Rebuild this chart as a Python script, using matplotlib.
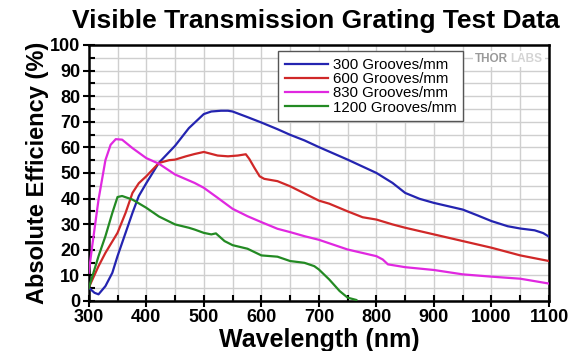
import matplotlib
matplotlib.use("Agg")
import matplotlib.pyplot as plt
from matplotlib.ticker import MultipleLocator

plt.rcParams['font.family'] = ['Liberation Sans', 'DejaVu Sans']

# Measured efficiency curves (wavelength in nm, efficiency in %)
wl_300 = [300, 310, 317, 329, 341, 350, 364, 376, 387, 400, 422, 450, 474, 500, 513,
          530, 542, 550, 576, 600, 628, 650, 675, 700, 750, 800, 828, 850, 875, 900,
          950, 976, 1000, 1028, 1050, 1075, 1090, 1100]
eff_300 = [5.2, 3.2, 2.6, 5.8, 11, 17.5, 26.6, 34.4, 41, 46, 54, 60.6, 67.5, 73, 74,
           74.3, 74.3, 74, 71.8, 69.7, 67.1, 64.9, 62.7, 60.1, 55.2, 50, 46.1, 42.2, 39.9, 38.3,
           35.7, 33.4, 31.2, 29.2, 28.3, 27.6, 26.5, 25.1]

wl_600 = [300, 317, 329, 350, 364, 376, 387, 400, 422, 440, 450, 469, 484, 500, 507,
          524, 542, 559, 573, 579, 588, 597, 605, 628, 650, 675, 700, 718, 750, 776,
          800, 828, 850, 900, 950, 1000, 1050, 1100]
eff_600 = [5.2, 13.6, 18.8, 26.6, 34.4, 42.2, 46, 48.7, 53.9, 55, 55.2, 56.5, 57.4, 58.2, 57.8,
           56.8, 56.5, 56.8, 57.3, 55.5, 52, 48.7, 47.7, 46.8, 44.8, 42, 39.2, 38, 35, 32.7,
           31.8, 29.9, 28.6, 26, 23.4, 20.8, 17.8, 15.6]

wl_830 = [300, 306, 317, 329, 338, 347, 358, 376, 400, 422, 450, 484, 500, 524, 550,
          576, 600, 628, 650, 675, 700, 750, 800, 811, 820, 850, 900, 950, 1000, 1050, 1100]
eff_830 = [11, 21.4, 39.6, 55, 61, 63.2, 63, 59.7, 55.8, 53.6, 49.4, 46.1, 44.2, 40.3, 36,
           33.1, 30.8, 28.2, 26.9, 25.3, 23.9, 20.1, 17.5, 16.2, 14.3, 13.2, 12.1, 10.4, 9.5, 8.7, 6.8]

wl_1200 = [300, 317, 329, 341, 350, 358, 376, 400, 422, 450, 474, 484, 500, 513, 521,
           536, 550, 576, 600, 628, 650, 675, 692, 700, 718, 736, 750, 765]
eff_1200 = [5, 17.5, 25.3, 34.4, 40.6, 41, 39.6, 36.4, 33, 29.9, 28.6, 27.9, 26.6, 26, 26.4,
            23.4, 21.8, 20.4, 17.8, 17.3, 15.6, 14.9, 13.6, 12.3, 8.4, 3.9, 1.3, 0.4]

labels = ['300 Grooves/mm', '600 Grooves/mm', '830 Grooves/mm', '1200 Grooves/mm']
colors = ['#2424b0', '#d02828', '#e028e0', '#238a23']

fig = plt.figure(figsize=(5.8, 3.51), dpi=100)
ax = fig.add_axes([0.153, 0.1425, 0.7936, 0.7295])

series = [(wl_300, eff_300), (wl_600, eff_600), (wl_830, eff_830), (wl_1200, eff_1200)]
for (x, y), lab, c in zip(series, labels, colors):
    ax.plot(x, y, color=c, lw=1.6, label=lab, zorder=3)

ax.set_xlim(300, 1100)
ax.set_ylim(0, 100)
ax.xaxis.set_major_locator(MultipleLocator(100))
ax.xaxis.set_minor_locator(MultipleLocator(50))
ax.yaxis.set_major_locator(MultipleLocator(10))
ax.yaxis.set_minor_locator(MultipleLocator(5))
ax.grid(True, which='both', color='#cfcfcf', lw=1.0, zorder=0)
ax.set_axisbelow(True)

ax.tick_params(which='major', direction='inout', length=8, width=1.5, color='black',
               labelsize=13, pad=2)
ax.tick_params(which='minor', direction='in', length=4, width=1.5, color='black')
for t in ax.get_xticklabels() + ax.get_yticklabels():
    t.set_fontweight('bold')
for s in ax.spines.values():
    s.set_linewidth(1.8)
    s.set_color('black')

ax.set_xlabel('Wavelength (nm)', fontsize=18, fontweight='bold', labelpad=1)
ax.set_ylabel('Absolute Efficiency (%)', fontsize=17, fontweight='bold', labelpad=1)
fig.text(0.545, 0.94, 'Visible Transmission Grating Test Data', fontsize=19,
         fontweight='bold', ha='center', va='center')

leg = ax.legend(loc='upper left', bbox_to_anchor=(278 / 580, 1 - 51 / 351),
                bbox_transform=fig.transFigure, fontsize=10.8, frameon=True,
                fancybox=False, edgecolor='#555555', framealpha=1,
                handlelength=2.9, handletextpad=0.3, labelspacing=0.02,
                borderpad=0.45, borderaxespad=0)
leg.get_frame().set_linewidth(1.0)

# Brand mark in the upper right corner
ax.text(0.9115, 0.945, 'THOR', transform=ax.transAxes, fontsize=8.5, fontweight='bold',
        color='#9a9a9a', ha='right', va='center', zorder=4,
        bbox=dict(facecolor='white', edgecolor='none', pad=1.5))
ax.text(0.9165, 0.945, 'LABS', transform=ax.transAxes, fontsize=8.5, fontweight='bold',
        color='#d4d4d4', ha='left', va='center', zorder=4,
        bbox=dict(facecolor='white', edgecolor='none', pad=1.5))

fig.savefig('out.png', dpi=100)
